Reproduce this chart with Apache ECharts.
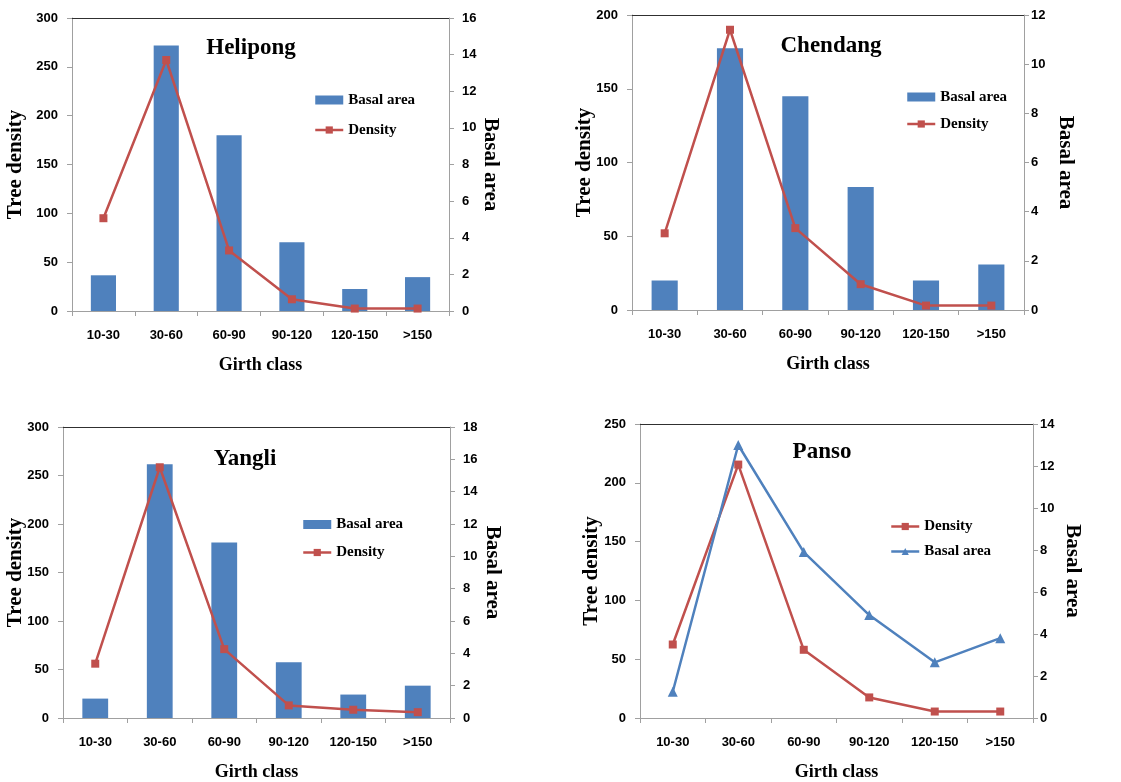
<!DOCTYPE html>
<html>
<head>
<meta charset="utf-8">
<script src="https://cdn.jsdelivr.net/npm/echarts@6/dist/echarts.min.js"></script>
<style>html,body{margin:0;padding:0;background:#fff;}#c{width:1121px;height:782px;}</style>
</head>
<body>
<div id="c"></div>
<script>
var categories = ['10-30', '30-60', '60-90', '90-120', '120-150', '>150'];

var helipongBasal = [1.95, 14.5, 9.6, 3.75, 1.2, 1.85];
var helipongDensity = [95, 257, 62, 12, 2.5, 2.5];

var chendangBasal = [1.2, 10.65, 8.7, 5.0, 1.2, 1.85];
var chendangDensity = [52, 190, 55.5, 17.5, 3, 3];

var yangliBasal = [1.2, 15.7, 10.85, 3.45, 1.45, 2.0];
var yangliDensity = [56, 258.5, 71, 13, 8.5, 6];

var pansoDensity = [62.5, 215.5, 58, 17.5, 5.5, 5.5];
var pansoBasal = [1.25, 13.0, 7.9, 4.9, 2.65, 3.8];

var panelTitles = ['Helipong', 'Chendang', 'Yangli', 'Panso'];
var leftAxisMax = [300, 200, 300, 250];
var rightAxisMax = [16, 12, 18, 14];

var RED = '#C0504D', BLUE = '#4F81BD', AXIS = '#A0A0A0';
var TICKFONT = "'Liberation Sans Narrow', 'Liberation Sans', Arial, sans-serif";
var SERIF = "'Liberation Serif', 'Times New Roman', serif";

var panels = [
  {grid: {left: 72, top: 18, width: 377, height: 293}, title: [251, 37], legend: [314, 92.5], gap: 15, nameL: 46, nameR: 31, rm: 13},
  {grid: {left: 632, top: 15, width: 392, height: 295}, title: [831, 35], legend: [906, 89.5], gap: 12, nameL: 37, nameR: 31, rm: 7},
  {grid: {left: 63, top: 427, width: 387, height: 292}, title: [245, 448], legend: [302, 517], gap: 13, nameL: 37, nameR: 32, rm: 13},
  {grid: {left: 640, top: 424, width: 393, height: 296}, title: [822, 441], legend: [890, 519], gap: 10, nameL: 38, nameR: 29, rm: 7}
];

var option = {
  animation: false,
  backgroundColor: '#fff',
  grid: [], xAxis: [], yAxis: [], series: [], title: [], legend: []
};

panels.forEach(function (p, i) {
  option.grid.push(p.grid);
  option.title.push({
    text: panelTitles[i], left: p.title[0], top: p.title[1], textAlign: 'center', padding: 0,
    textStyle: {fontFamily: SERIF, fontWeight: 'bold', fontSize: 23, color: '#000'}
  });
  // bottom category axis
  option.xAxis.push({
    type: 'category', gridIndex: i, data: categories, position: 'bottom',
    name: 'Girth class', nameLocation: 'middle', nameGap: 45,
    nameTextStyle: {fontFamily: SERIF, fontWeight: 'bold', fontSize: 18, color: '#000'},
    axisLine: {onZero: false, lineStyle: {color: AXIS, width: 1}},
    axisTick: {show: true, length: 5, lineStyle: {color: AXIS}},
    axisLabel: {fontFamily: TICKFONT, fontWeight: 'bold', fontSize: 13, color: '#000', margin: 18, interval: 0},
    splitLine: {show: false}
  });
  // top frame line
  option.xAxis.push({
    type: 'category', gridIndex: i, data: categories, position: 'top',
    axisLine: {onZero: false, lineStyle: {color: '#303030', width: 1}},
    axisTick: {show: false}, axisLabel: {show: false}, splitLine: {show: false}
  });
  option.yAxis.push({
    type: 'value', gridIndex: i, position: 'left', min: 0, max: leftAxisMax[i], interval: 50,
    name: 'Tree density', nameLocation: 'middle', nameGap: p.nameL, nameRotate: 90, nameMoveOverlap: false,
    nameTextStyle: {fontFamily: SERIF, fontWeight: 'bold', fontSize: 21, color: '#000'},
    axisLine: {show: true, onZero: false, lineStyle: {color: AXIS}},
    axisTick: {show: true, length: 5, lineStyle: {color: AXIS}},
    axisLabel: {fontFamily: TICKFONT, fontWeight: 'bold', fontSize: 13, color: '#000', margin: 14},
    splitLine: {show: false}
  });
  option.yAxis.push({
    type: 'value', gridIndex: i, position: 'right', min: 0, max: rightAxisMax[i], interval: 2,
    name: 'Basal area', nameLocation: 'middle', nameGap: p.nameR, nameRotate: -90, nameMoveOverlap: false,
    nameTextStyle: {fontFamily: SERIF, fontWeight: 'bold', fontSize: 21, color: '#000'},
    axisLine: {show: true, onZero: false, lineStyle: {color: AXIS}},
    axisTick: {show: true, length: 5, lineStyle: {color: AXIS}},
    axisLabel: {fontFamily: TICKFONT, fontWeight: 'bold', fontSize: 13, color: '#000', margin: p.rm},
    splitLine: {show: false}
  });
});

function barSeries(i, name, data) {
  return {
    name: name, type: 'bar', xAxisIndex: 2 * i, yAxisIndex: 2 * i + 1,
    data: data, barWidth: '40%', itemStyle: {color: BLUE}, z: 2
  };
}
function lineSeries(i, name, data, color, symbol, yIdx) {
  return {
    name: name, type: 'line', xAxisIndex: 2 * i, yAxisIndex: yIdx,
    data: data, symbol: symbol, symbolSize: symbol === 'rect' ? 8 : 10,
    lineStyle: {color: color, width: 2.5}, itemStyle: {color: color}, z: 5
  };
}

option.series.push(barSeries(0, 'Basal area', helipongBasal));
option.series.push(lineSeries(0, 'Density', helipongDensity, RED, 'rect', 0));
option.series.push(barSeries(1, 'Basal area', chendangBasal));
option.series.push(lineSeries(1, 'Density', chendangDensity, RED, 'rect', 2));
option.series.push(barSeries(2, 'Basal area', yangliBasal));
option.series.push(lineSeries(2, 'Density', yangliDensity, RED, 'rect', 4));
option.series.push(lineSeries(3, 'Density', pansoDensity, RED, 'rect', 6));
option.series.push(lineSeries(3, 'Panso basal area', pansoBasal, BLUE, 'triangle', 7));

var legendText = {fontFamily: SERIF, fontWeight: 'bold', fontSize: 15, color: '#000'};
panels.forEach(function (p, i) {
  var names = i < 3 ? [{name: 'Basal area', icon: 'rect'}, {name: 'Density'}] : [{name: 'Density'}, {name: 'Panso basal area'}];
  option.legend.push({
    orient: 'vertical', left: p.legend[0], top: p.legend[1], padding: 0,
    itemWidth: 28, itemHeight: 9, itemGap: p.gap,
    lineStyle: {width: 2.5},
    data: names, textStyle: legendText, selectedMode: false,
    formatter: function (n) { return n === 'Panso basal area' ? 'Basal area' : n; }
  });
});

var chart = echarts.init(document.getElementById('c'), null, {renderer: 'canvas'});
chart.setOption(option);
</script>
</body>
</html>
